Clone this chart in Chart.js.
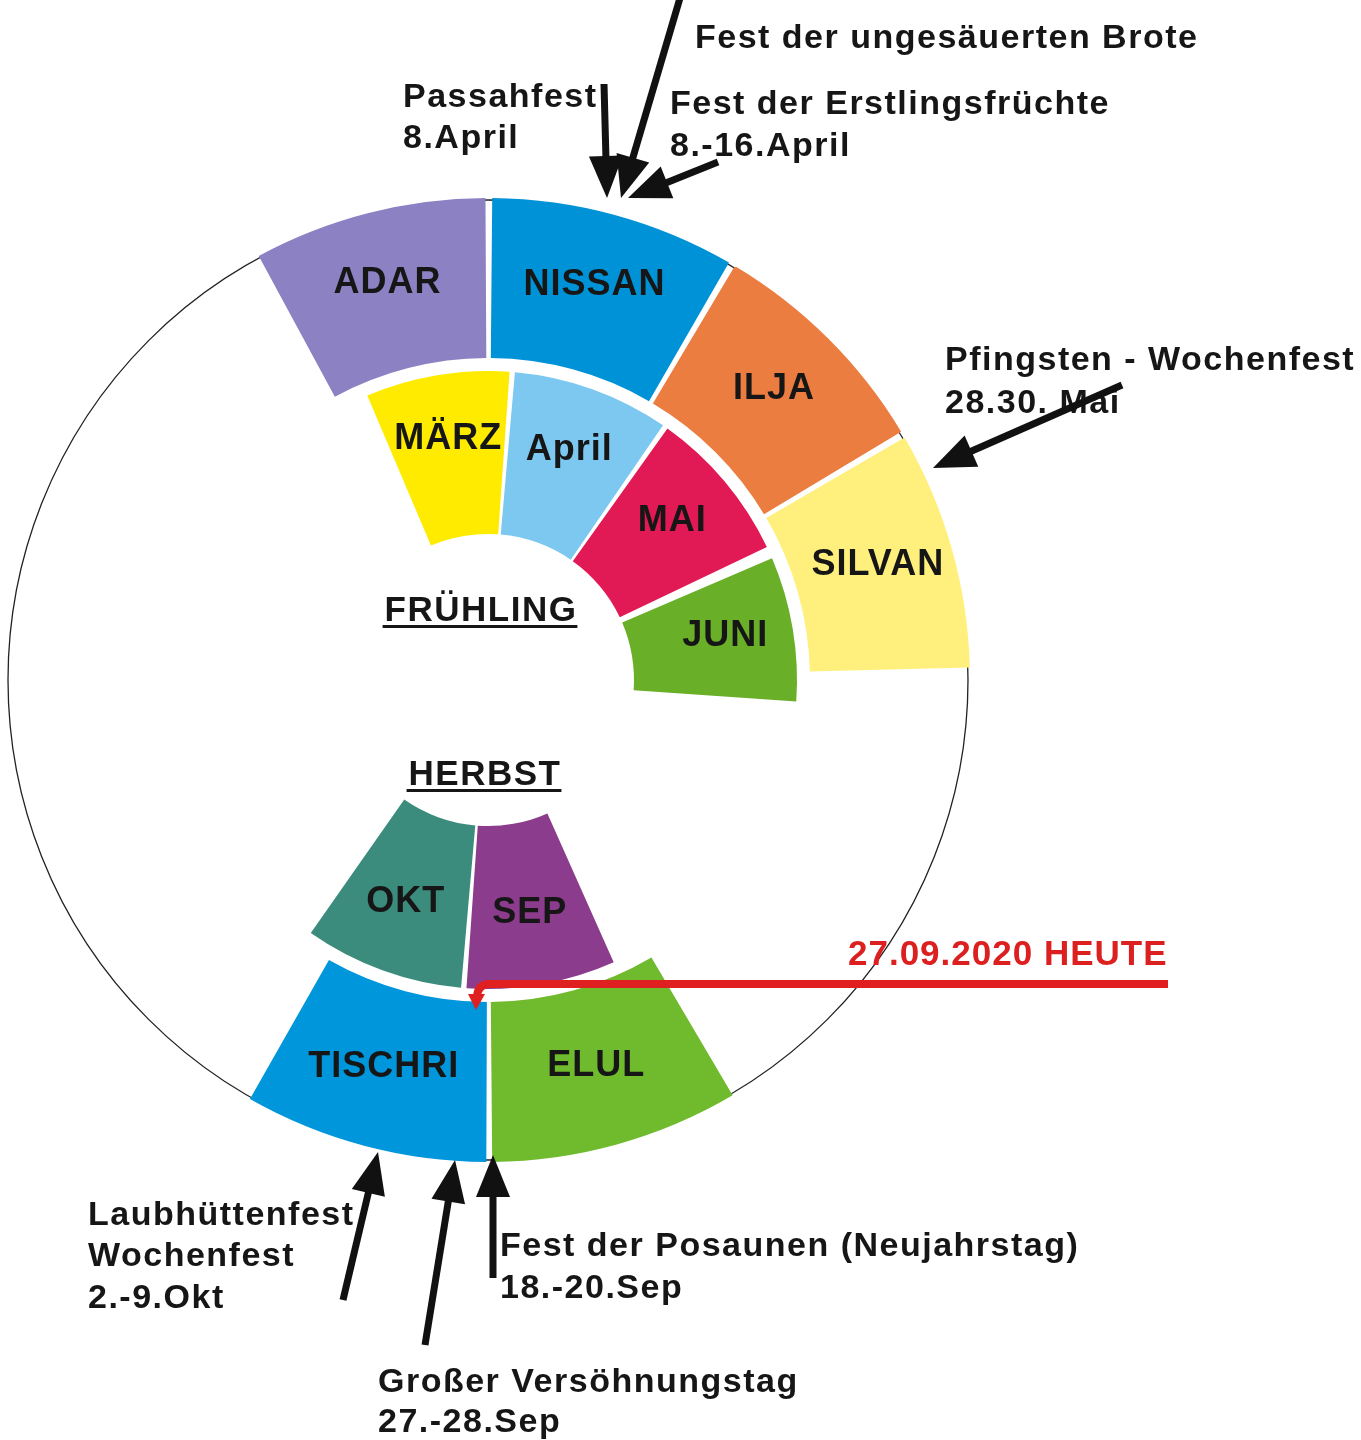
<!DOCTYPE html>
<html lang="de">
<head>
<meta charset="utf-8">
<title>Festkalender</title>
<script src="https://cdn.jsdelivr.net/npm/chart.js@4.4.1/dist/chart.umd.min.js"></script>
<style>
  html, body { margin: 0; padding: 0; background: #fff; }
  #wrap { position: relative; width: 1361px; height: 1440px; }
</style>
</head>
<body>
<div id="wrap"><canvas id="myChart"></canvas></div>
<script>
// Outer ring: hebrew months, arc spans in degrees clockwise from the top ("" = gap)
const outerLabels = ["NISSAN", "", "ILJA", "", "SILVAN", "", "ELUL", "", "TISCHRI", "", "ADAR", ""];
const outerSpans = [29.5, 0.8, 28.2, 0.8, 28.7, 61, 30, 0.7, 29.4, 122, 28.1, 0.8];
const outerColors = ["#0092d6", "", "#eb7d41", "", "#fff07d", "", "#70ba2d", "", "#0096dc", "", "#8c82c3", ""];

// Inner ring: gregorian months
const innerLabels = ["MÄRZ", "", "April", "", "MAI", "", "JUNI", "", "SEP", "", "OKT", ""];
const innerSpans = [27, 1, 29.5, 1, 29, 2.3, 27.2, 62, 28, 1, 30, 122];
const innerColors = ["#ffeb00", "", "#7dc8f0", "", "#e11955", "", "#69af28", "", "#8c3c8c", "", "#3c8c7d", ""];

const seasons = ["FRÜHLING", "HERBST"];

// Text annotations
const notes = [
  { text: "Fest der ungesäuerten Brote", x: 695, y: 39 },
  { text: "Passahfest", x: 403, y: 98 },
  { text: "8.April", x: 403, y: 139 },
  { text: "Fest der Erstlingsfrüchte", x: 670, y: 105 },
  { text: "8.-16.April", x: 670, y: 147 },
  { text: "Pfingsten - Wochenfest", x: 945, y: 361 },
  { text: "28.30. Mai", x: 945, y: 404 },
  { text: "Laubhüttenfest", x: 88, y: 1216 },
  { text: "Wochenfest", x: 88, y: 1257 },
  { text: "2.-9.Okt", x: 88, y: 1299 },
  { text: "Fest der Posaunen (Neujahrstag)", x: 500, y: 1247 },
  { text: "18.-20.Sep", x: 500, y: 1289 },
  { text: "Großer Versöhnungstag", x: 378, y: 1383 },
  { text: "27.-28.Sep", x: 378, y: 1423 },
];
const today = { text: "27.09.2020 HEUTE", x: 848, y: 955 };

// Arrows: [tailX, tailY, tipX, tipY]
const arrows = [
  [680, -2, 621, 198],
  [604, 84, 607, 198],
  [718, 162, 628, 198],
  [1122, 385, 933, 468],
  [343, 1300, 378, 1152],
  [425, 1345, 455, 1160],
  [493, 1278, 493, 1155],
];

const clear = "rgba(0,0,0,0)";
const fillGaps = (cols) => cols.map((c) => c || clear);

function drawArrow(ctx, x1, y1, x2, y2, len, half) {
  const a = Math.atan2(y2 - y1, x2 - x1);
  const bx = x2 - Math.cos(a) * len;
  const by = y2 - Math.sin(a) * len;
  ctx.beginPath();
  ctx.moveTo(x1, y1);
  ctx.lineTo(bx + Math.cos(a) * 4, by + Math.sin(a) * 4);
  ctx.stroke();
  ctx.beginPath();
  ctx.moveTo(x2, y2);
  ctx.lineTo(bx - Math.sin(a) * half, by + Math.cos(a) * half);
  ctx.lineTo(bx + Math.sin(a) * half, by - Math.cos(a) * half);
  ctx.closePath();
  ctx.fill();
}

const calendarPlugin = {
  id: "calendar",
  beforeDatasetsDraw(chart) {
    //Thin circle round the whole year
    const ctrl = chart.getDatasetMeta(0).controller;
    const a0 = chart.getDatasetMeta(0).data[0];
    const ctx = chart.ctx;
    ctx.save();
    ctx.beginPath();
    ctx.arc(a0.x, a0.y, ctrl.outerRadius - 2, 0, Math.PI * 2);
    ctx.lineWidth = 1.3;
    ctx.strokeStyle = "#222";
    ctx.stroke();
    ctx.restore();
  },
  afterDatasetsDraw(chart) {
    const ctx = chart.ctx;
    ctx.save();
    ctx.fillStyle = "#161616";
    ctx.textAlign = "center";
    ctx.textBaseline = "middle";
    ctx.font = "bold 36px 'Liberation Sans', Arial, sans-serif";
    ctx.letterSpacing = "1px";
    [0, 2].forEach((di) => {
      const names = chart.data.datasets[di].names;
      const frac = di == 0 ? 0.52 : 0.58;
      chart.getDatasetMeta(di).data.forEach((arc, j) => {
        if (!names[j]) return;
        const p = arc.getProps(["x", "y", "startAngle", "endAngle", "innerRadius", "outerRadius"], true);
        const mid = (p.startAngle + p.endAngle) / 2;
        const r = p.innerRadius + (p.outerRadius - p.innerRadius) * frac;
        ctx.fillText(names[j], p.x + Math.cos(mid) * r, p.y + Math.sin(mid) * r - 4);
      });
    });

    //Season titles, underlined
    const c = chart.getDatasetMeta(0).data[0];
    ctx.font = "bold 35px 'Liberation Sans', Arial, sans-serif";
    ctx.letterSpacing = "1.5px";
    ctx.textBaseline = "alphabetic";
    [[seasons[0], c.x - 7, c.y - 59], [seasons[1], c.x - 3, c.y + 105]].forEach(([t, x, y]) => {
      ctx.fillText(t, x, y);
      const w = ctx.measureText(t).width;
      ctx.fillRect(x - w / 2 - 2, y + 4, w + 2, 3);
    });

    //Annotations
    ctx.textAlign = "left";
    ctx.textBaseline = "middle";
    ctx.font = "bold 34px 'Liberation Sans', Arial, sans-serif";
    ctx.letterSpacing = "1.5px";
    notes.forEach((n) => ctx.fillText(n.text, n.x, n.y));

    ctx.fillStyle = "#dc2020";
    ctx.font = "bold 35px 'Liberation Sans', Arial, sans-serif";
    ctx.letterSpacing = "1px";
    ctx.fillText(today.text, today.x, today.y);

    //Black arrows
    ctx.letterSpacing = "0px";
    ctx.strokeStyle = "#111";
    ctx.fillStyle = "#111";
    ctx.lineWidth = 7;
    arrows.forEach((a) => drawArrow(ctx, a[0], a[1], a[2], a[3], 42, 17));

    //Red "today" arrow
    ctx.strokeStyle = "#e02020";
    ctx.fillStyle = "#e02020";
    ctx.lineWidth = 8;
    ctx.beginPath();
    ctx.moveTo(1168, 984);
    ctx.lineTo(488, 984);
    ctx.quadraticCurveTo(478, 985, 477, 996);
    ctx.stroke();
    ctx.beginPath();
    ctx.moveTo(476, 1010);
    ctx.lineTo(468, 994);
    ctx.lineTo(485, 994);
    ctx.closePath();
    ctx.fill();
    ctx.restore();
  },
};

const ctx = document.getElementById("myChart");
new Chart(ctx, {
  type: "doughnut",
  data: {
    labels: outerLabels,
    datasets: [
      {
        names: outerLabels,
        data: outerSpans,
        backgroundColor: fillGaps(outerColors),
        borderWidth: 0,
        rotation: 0.5,
        weight: 160,
      },
      {
        names: [""],
        data: [1],
        backgroundColor: clear,
        borderWidth: 0,
        weight: 13,
      },
      {
        names: innerLabels,
        data: innerSpans,
        backgroundColor: fillGaps(innerColors),
        borderWidth: 0,
        rotation: 337,
        weight: 163,
      },
    ],
  },
  options: {
    responsive: true,
    maintainAspectRatio: false,
    animation: false,
    devicePixelRatio: 1,
    events: [],
    radius: 482,
    cutout: 146,
    layout: {
      padding: { left: 6, top: 198, right: 391, bottom: 278 },
    },
    plugins: {
      legend: { display: false },
      tooltip: { enabled: false },
    },
  },
  plugins: [calendarPlugin],
});
</script>
</body>
</html>
